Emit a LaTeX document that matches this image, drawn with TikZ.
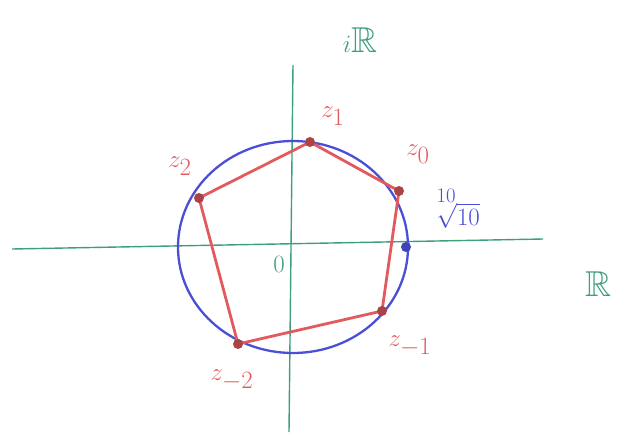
\documentclass[tikz,border=0pt]{standalone}
\usepackage{amsmath,amssymb}
\usepackage{xcolor}
\usepackage{tikz}
\usetikzlibrary{positioning, calc}
\definecolor{axisgreen}{HTML}{3E9E7E}
\definecolor{polyred}{HTML}{E25A5E}
\definecolor{circblue}{HTML}{4B4FD6}

\begin{document}
\begin{tikzpicture}[
    x=1pt, y=-1pt,
    axis/.style={draw=axisgreen, line width=1.4pt},
    circ/.style={draw=circblue, line width=2.3pt},
    edge/.style={draw=polyred, line width=2.8pt, line join=round},
    vdot/.style={circle, fill=polyred!75!black, inner sep=0pt, minimum size=10pt},
    bdot/.style={circle, fill=circblue!85!black, inner sep=0pt, minimum size=10pt},
    zlabel/.style={text=polyred, inner sep=1pt, font=\fontsize{34}{36}\selectfont},
    alabel/.style={text=axisgreen, font=\fontsize{36}{38}\selectfont},
    blabel/.style={text=circblue, inner sep=1pt, font=\fontsize{28}{30}\selectfont},
]
\useasboundingbox (0,0) rectangle (625,432);

% ── Axes ─────────────────────────────────────────────────────────────────
\coordinate (xl) at (12,249);
\coordinate (xr) at (543,239);
\coordinate (yt) at (293,65);
\coordinate (yb) at (289,432);
\draw[axis] (xl) -- (xr);
\draw[axis] (yt) -- (yb);
\node[alabel] (imR) at (360,40) {$i\mathbb{R}$};
\node[alabel] (reR) at (598,284) {$\mathbb{R}$};
\node[alabel, font=\fontsize{26}{28}\selectfont] (origin) at (279,264) {$0$};

% ── Circle ───────────────────────────────────────────────────────────────
\coordinate (ctr) at (293,247);
\draw[circ] (ctr) ellipse [x radius=115, y radius=106];

% ── Pentagon ─────────────────────────────────────────────────────────────
\coordinate (z1) at (310,142);
\coordinate (z0) at (399,191);
\coordinate (zm1) at (382,311);
\coordinate (zm2) at (238,344);
\coordinate (z2) at (199,198);
\draw[edge] (z1) -- (z0) -- (zm1) -- (zm2) -- (z2) -- cycle;
\foreach \v in {z1, z0, zm1, zm2, z2}
    \node[vdot] at (\v) {};

% ── Labels ───────────────────────────────────────────────────────────────
\node[zlabel] (lz1) at (333,116) {$z_1$};
\node[zlabel] (lz0) at (418,154) {$z_0$};
\node[zlabel] (lzm1) at (410,346) {$z_{-1}$};
\node[zlabel] (lzm2) at (232,380) {$z_{-2}$};
\node[zlabel] (lz2) at (180,166) {$z_2$};

% ── Radius ───────────────────────────────────────────────────────────────
\coordinate (rdot) at (406,247);
\node[bdot] at (rdot) {};
\node[blabel] (root) at (452,209) {$\sqrt[\uproot{8}\leftroot{-4}\scriptstyle 10]{10}$};

\end{tikzpicture}
\end{document}
